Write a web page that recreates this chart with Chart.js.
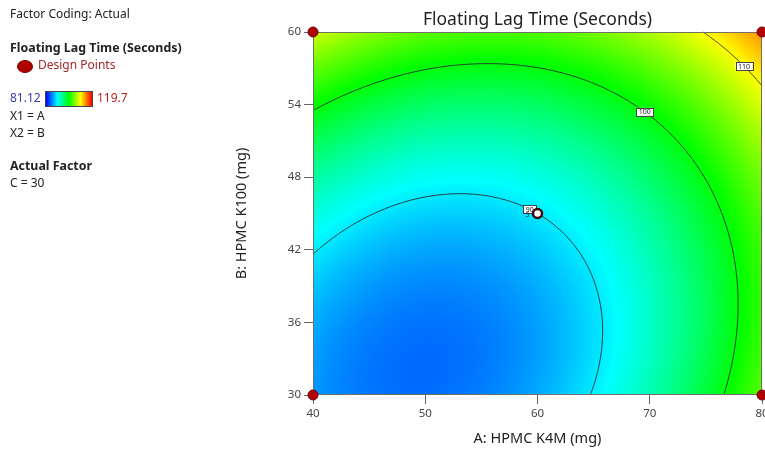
<!DOCTYPE html>
<html>
<head>
<meta charset="utf-8">
<script src="https://cdn.jsdelivr.net/npm/chart.js@4.4.1/dist/chart.umd.min.js"></script>
<style>
  body { margin: 0; background: #fff; }
  #wrap { position: relative; width: 765px; height: 450px; overflow: hidden; font-family: "Segoe UI", "Noto Sans", sans-serif; color: #222; }
  #surfaceChart { position: absolute; left: 0; top: 0; }
  .side { position: absolute; left: 10px; font-size: 12px; line-height: 14px; white-space: nowrap; }
  .bold { font-weight: bold; font-size: 12.4px; }
</style>
</head>
<body>
<div id="wrap">
  <canvas id="surfaceChart" width="765" height="450"></canvas>
  <div class="side" style="top:7px">Factor Coding: Actual</div>
  <div class="side bold" style="top:41px">Floating Lag Time (Seconds)</div>
  <div style="position:absolute;left:17px;top:60px;width:14px;height:11px;border-radius:50%;background:#b00000;border:1px solid #7a0000"></div>
  <div class="side" style="left:38px;top:58px;color:#a02828">Design Points</div>
  <div class="side" style="top:91px;color:#3a3aa8">81.12</div>
  <div style="position:absolute;left:45px;top:91px;width:46px;height:14px;border:1px solid #444;background:linear-gradient(to right,#0000ff,#00ffff,#00ff00,#ffff00,#ff0000)"></div>
  <div class="side" style="left:97px;top:91px;color:#c02020">119.7</div>
  <div class="side" style="top:109px">X1 = A</div>
  <div class="side" style="top:126px">X2 = B</div>
  <div class="side bold" style="top:159px">Actual Factor</div>
  <div class="side" style="top:176px">C = 30</div>
</div>
<script>
"use strict";

// factor A (x) and factor B (y) grid
const hpmcK4M = [40, 45, 50, 55, 60, 65, 70, 75, 80];
const hpmcK100 = [30, 35, 40, 45, 50, 55, 60];

// floating lag time (s), one row per B level
const lagB30 = [86.96, 85.64, 85.30, 85.95, 87.57, 90.18, 93.76, 98.33, 103.88];
const lagB35 = [87.45, 85.90, 85.34, 85.75, 87.15, 89.53, 92.88, 97.22, 102.54];
const lagB40 = [89.17, 87.40, 86.60, 86.79, 87.96, 90.11, 93.24, 97.35, 102.44];
const lagB45 = [92.13, 90.13, 89.10, 89.06, 90.00, 91.92, 94.82, 98.71, 103.57];
const lagB50 = [96.32, 94.09, 92.84, 92.57, 93.28, 94.97, 97.64, 101.30, 105.93];
const lagB55 = [101.74, 99.28, 97.80, 97.31, 97.79, 99.25, 101.70, 105.12, 109.53];
const lagB60 = [108.40, 105.71, 104.00, 103.28, 103.53, 104.77, 106.98, 110.18, 114.36];

const colorMin = 81.12;
const colorMax = 119.7;
const contourLevels = [90, 100, 110];
const contourLabelAt = [59.3, 69.6, 78.4];

// design points
const designA = [40, 40, 80, 80, 60];
const designB = [30, 60, 30, 60, 45];
const centerReps = '5';

const xTicks = [40, 50, 60, 70, 80];
const yTicks = [30, 36, 42, 48, 54, 60];

const lagRows = [lagB30, lagB35, lagB40, lagB45, lagB50, lagB55, lagB60];

// grid lookup with quadratic extrapolation for the ghost cells
function gridVal(i, j) {
  const nx = hpmcK4M.length, ny = hpmcK100.length;
  if (j < 0) return 3 * gridVal(i, 0) - 3 * gridVal(i, 1) + gridVal(i, 2);
  if (j >= ny) return 3 * gridVal(i, ny - 1) - 3 * gridVal(i, ny - 2) + gridVal(i, ny - 3);
  if (i < 0) return 3 * lagRows[j][0] - 3 * lagRows[j][1] + lagRows[j][2];
  if (i >= nx) return 3 * lagRows[j][nx - 1] - 3 * lagRows[j][nx - 2] + lagRows[j][nx - 3];
  return lagRows[j][i];
}

function cr(p0, p1, p2, p3, t) {
  return 0.5 * (2 * p1 + (p2 - p0) * t + (2 * p0 - 5 * p1 + 4 * p2 - p3) * t * t + (3 * p1 - p0 - 3 * p2 + p3) * t * t * t);
}

function surface(a, b) {
  const nx = hpmcK4M.length, ny = hpmcK100.length;
  const dx = hpmcK4M[1] - hpmcK4M[0], dy = hpmcK100[1] - hpmcK100[0];
  const u = (a - hpmcK4M[0]) / dx, v = (b - hpmcK100[0]) / dy;
  const i = Math.min(nx - 2, Math.max(0, Math.floor(u)));
  const j = Math.min(ny - 2, Math.max(0, Math.floor(v)));
  const t = u - i, s = v - j;
  const col = [];
  for (let k = -1; k <= 2; k++) {
    col.push(cr(gridVal(i - 1, j + k), gridVal(i, j + k), gridVal(i + 1, j + k), gridVal(i + 2, j + k), t));
  }
  return cr(col[0], col[1], col[2], col[3], s);
}

function colorFor(val) {
  let t = (val - colorMin) / (colorMax - colorMin);
  t = Math.max(0, Math.min(1, t));
  const hue = 240 * (1 - t) / 60;
  const f = hue - Math.floor(hue);
  let r, g, b;
  switch (Math.floor(hue)) {
    case 0: r = 1; g = f; b = 0; break;
    case 1: r = 1 - f; g = 1; b = 0; break;
    case 2: r = 0; g = 1; b = f; break;
    case 3: r = 0; g = 1 - f; b = 1; break;
    default: r = 0; g = 0; b = 1;
  }
  return [r * 255, g * 255, b * 255];
}

const surfacePlugin = {
  id: 'surface',
  beforeDatasetsDraw(chart) {
    const { ctx, chartArea: { left, top, right, bottom }, scales: { x, y } } = chart;
    const l = Math.round(left), tp = Math.round(top);
    const w = Math.round(right) - l, h = Math.round(bottom) - tp;

    // colour field
    const img = ctx.createImageData(w, h);
    for (let py = 0; py < h; py++) {
      const b = y.getValueForPixel(tp + py + 0.5);
      for (let px = 0; px < w; px++) {
        const a = x.getValueForPixel(l + px + 0.5);
        const c = colorFor(surface(a, b));
        const o = (py * w + px) * 4;
        img.data[o] = c[0]; img.data[o + 1] = c[1]; img.data[o + 2] = c[2]; img.data[o + 3] = 255;
      }
    }
    ctx.putImageData(img, l, tp);

    // contour lines (marching squares on a fine sampling of the surface)
    const nA = 200, nB = 160;
    const aMin = x.min, aMax = x.max, bMin = y.min, bMax = y.max;
    const vals = [];
    for (let j = 0; j <= nB; j++) {
      const row = [];
      for (let i = 0; i <= nA; i++) row.push(surface(aMin + (aMax - aMin) * i / nA, bMin + (bMax - bMin) * j / nB));
      vals.push(row);
    }
    ctx.save();
    ctx.strokeStyle = '#2a2a2a';
    ctx.lineWidth = 0.9;
    const labelPts = [];
    contourLevels.forEach((lev, k) => {
      let best = null;
      ctx.beginPath();
      for (let j = 0; j < nB; j++) {
        for (let i = 0; i < nA; i++) {
          const a0 = aMin + (aMax - aMin) * i / nA, a1 = aMin + (aMax - aMin) * (i + 1) / nA;
          const b0 = bMin + (bMax - bMin) * j / nB, b1 = bMin + (bMax - bMin) * (j + 1) / nB;
          const v00 = vals[j][i], v10 = vals[j][i + 1], v01 = vals[j + 1][i], v11 = vals[j + 1][i + 1];
          const pts = [];
          if ((v00 - lev) * (v10 - lev) < 0) pts.push([a0 + (a1 - a0) * (lev - v00) / (v10 - v00), b0]);
          if ((v10 - lev) * (v11 - lev) < 0) pts.push([a1, b0 + (b1 - b0) * (lev - v10) / (v11 - v10)]);
          if ((v01 - lev) * (v11 - lev) < 0) pts.push([a0 + (a1 - a0) * (lev - v01) / (v11 - v01), b1]);
          if ((v00 - lev) * (v01 - lev) < 0) pts.push([a0, b0 + (b1 - b0) * (lev - v00) / (v01 - v00)]);
          for (let p = 0; p + 1 < pts.length; p += 2) {
            ctx.moveTo(x.getPixelForValue(pts[p][0]), y.getPixelForValue(pts[p][1]));
            ctx.lineTo(x.getPixelForValue(pts[p + 1][0]), y.getPixelForValue(pts[p + 1][1]));
            const ma = (pts[p][0] + pts[p + 1][0]) / 2, mb = (pts[p][1] + pts[p + 1][1]) / 2;
            const d = Math.abs(ma - contourLabelAt[k]);
            if (!best || d < best.d) best = { d, a: ma, b: mb };
          }
        }
      }
      ctx.stroke();
      if (best) labelPts.push({ lev, a: best.a, b: best.b });
    });

    // contour labels
    ctx.font = '7px "Segoe UI", "Noto Sans", sans-serif';
    ctx.textAlign = 'center';
    ctx.textBaseline = 'middle';
    labelPts.forEach(p => {
      const px = x.getPixelForValue(p.a), py = y.getPixelForValue(p.b);
      const txt = String(p.lev);
      const bw = ctx.measureText(txt).width + 5, bh = 8;
      ctx.fillStyle = '#fff';
      ctx.fillRect(px - bw / 2, py - bh / 2, bw, bh);
      ctx.strokeStyle = '#444';
      ctx.lineWidth = 1;
      ctx.strokeRect(Math.round(px - bw / 2) + 0.5, Math.round(py - bh / 2) + 0.5, Math.round(bw), bh);
      ctx.fillStyle = '#222';
      ctx.fillText(txt, px, py + 0.5);
    });

    // replicate count beside the centre point
    ctx.fillStyle = '#222';
    ctx.fillText(centerReps, x.getPixelForValue(designA[4]) - 10, y.getPixelForValue(designB[4]) + 1);

    // frame
    ctx.strokeStyle = '#6e6e6e';
    ctx.lineWidth = 1;
    ctx.strokeRect(l + 0.5, tp + 0.5, w - 1, h - 1);
    ctx.restore();
  }
};

Chart.defaults.font.family = '"Segoe UI", "Noto Sans", sans-serif';

const ctx = document.getElementById('surfaceChart');
const designPts = designA.map((a, i) => ({ x: a, y: designB[i] }));

new Chart(ctx, {
  type: 'scatter',
  data: {
    datasets: [{
      label: 'Design Points',
      data: designPts,
      pointRadius: designPts.map((p, i) => i === 4 ? 4.5 : 5),
      pointBorderWidth: designPts.map((p, i) => i === 4 ? 2.5 : 1),
      pointBackgroundColor: designPts.map((p, i) => i === 4 ? '#ffffff' : '#b00000'),
      pointBorderColor: designPts.map((p, i) => i === 4 ? '#3a0a0a' : '#7a0000'),
      clip: false
    }]
  },
  options: {
    responsive: false,
    animation: false,
    devicePixelRatio: 1,
    layout: { autoPadding: false, padding: { left: 230, right: 3, top: 0, bottom: 0 } },
    plugins: {
      legend: { display: false },
      tooltip: { enabled: false },
      title: {
        display: true,
        fullSize: false,
        text: 'Floating Lag Time (Seconds)',
        color: '#222',
        font: { size: 17.5, weight: 'normal' },
        padding: { top: 10, bottom: 1 }
      }
    },
    scales: {
      x: {
        type: 'linear',
        min: xTicks[0],
        max: xTicks[xTicks.length - 1],
        afterBuildTicks(scale) { scale.ticks = xTicks.map(v => ({ value: v })); },
        afterFit(scale) { scale.height = 55; scale.paddingLeft = 0; scale.paddingRight = 0; },
        ticks: { color: '#444', font: { size: 11.5 }, padding: 3, maxRotation: 0 },
        grid: { drawOnChartArea: false, drawTicks: true, tickLength: 9, color: '#666' },
        border: { display: false },
        title: { display: true, text: 'A: HPMC K4M (mg)', color: '#222', font: { size: 14.5 }, padding: { top: 4, bottom: 2 } }
      },
      y: {
        type: 'linear',
        min: yTicks[0],
        max: yTicks[yTicks.length - 1],
        afterBuildTicks(scale) { scale.ticks = yTicks.map(v => ({ value: v })); },
        afterFit(scale) { scale.width = 83; scale.paddingTop = 0; scale.paddingBottom = 0; },
        ticks: { color: '#444', font: { size: 11.5 }, padding: 3 },
        grid: { drawOnChartArea: false, drawTicks: true, tickLength: 9, color: '#666' },
        border: { display: false },
        title: { display: true, text: 'B: HPMC K100 (mg)', color: '#222', font: { size: 14.5 }, padding: { top: 3, bottom: 4 } }
      }
    }
  },
  plugins: [surfacePlugin]
});
</script>
</body>
</html>
